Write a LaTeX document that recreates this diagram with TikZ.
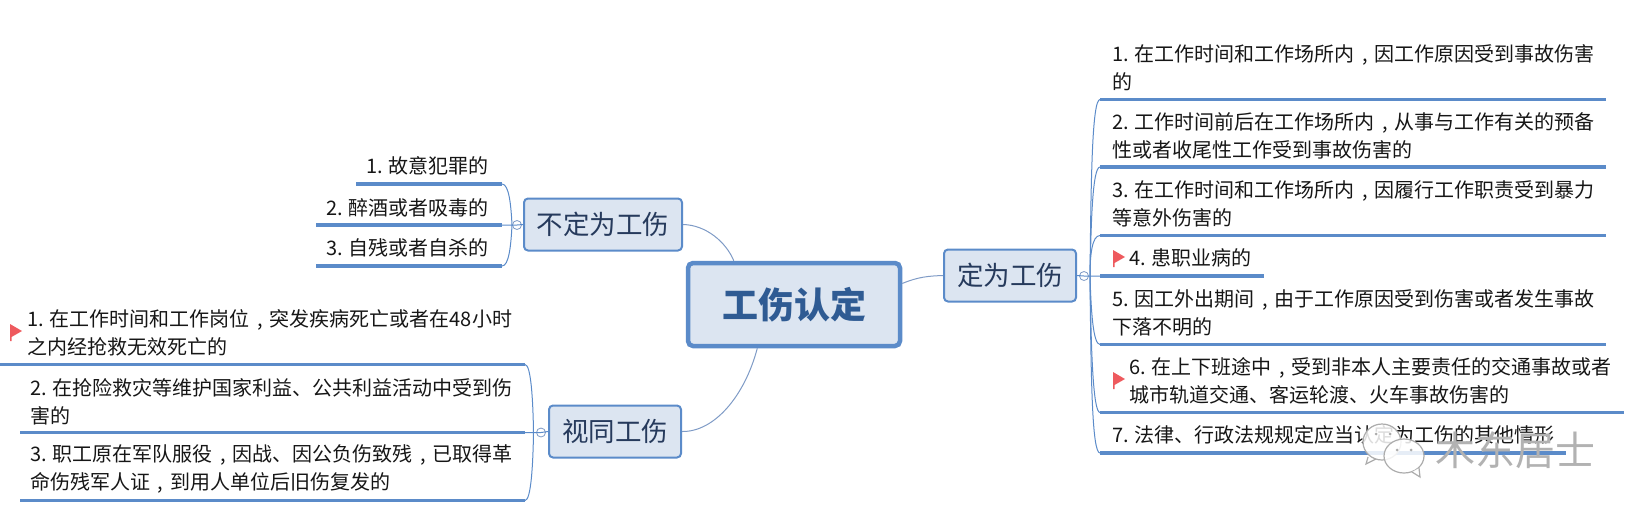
\documentclass[tikz,border=0pt]{standalone}
\usepackage{fontspec}
\setmainfont{Noto Sans CJK SC}
\usepackage{xcolor}
\usetikzlibrary{arrows.meta,positioning,calc}
\definecolor{mapblue}{HTML}{5B8BC9}
\definecolor{mapfill}{HTML}{DCE5F1}
\definecolor{mapink}{HTML}{2F5B93}
\definecolor{mapnavy}{HTML}{263A5C}
\definecolor{mapthin}{HTML}{7F9BC6}
\definecolor{mapflag}{HTML}{EE5A5E}
\definecolor{leafink}{HTML}{161616}
\newcommand{\zhc}{\makebox[20pt]{,}}
\begin{document}
\begin{tikzpicture}[x=1pt, y=-1pt,
  rootbox/.style={draw=mapblue, line width=4.5pt, rounded corners=5pt, fill=mapfill,
    font=\fontsize{36}{40}\selectfont\bfseries, text=mapink,
    minimum width=212pt, minimum height=83pt, inner sep=0pt},
  topic/.style={draw=mapblue, line width=2pt, rounded corners=4pt, fill=mapfill,
    font=\fontsize{26.5}{30}\selectfont, text=mapnavy, minimum height=52pt, inner sep=0pt},
  leaf/.style={font=\fontsize{20}{28}\selectfont, text=leafink, align=left, anchor=west, inner sep=0pt},
  leafr/.style={leaf, anchor=east, align=right},
  hub/.style={circle, draw=mapthin, fill=white, line width=0.8pt, minimum size=9pt, inner sep=0pt},
  rule/.style={draw=mapblue, line width=3.4pt},
  twig/.style={draw=mapblue, line width=1pt},
  limb/.style={draw=mapthin, line width=1pt},
  flagmark/.pic={
    \fill[mapflag] (0,0) -- (12,7) -- (1.5,13) -- (1.5,17) -- (0,17) -- cycle;
  },
  bubble/.style={draw=gray!65, line width=1.2pt, fill=white, fill opacity=0.85},
  eye/.style={fill=gray!65, circle, inner sep=0pt, minimum size=3pt}]
\useasboundingbox (0,0) rectangle (1651,523);
% centre and the three topics
\node[rootbox] (root) at (794,304.5) {工伤认定};
\node[topic, minimum width=132pt] (yes) at (1010,275.5) {定为工伤};
\node[topic, minimum width=158pt] (no) at (603,224.5) {不定为工伤};
\node[topic, minimum width=132pt] (same) at (615,431.5) {视同工伤};
\draw[limb] (root.11) .. controls (918,277) and (928,276) .. (yes.west);
\draw[limb] (no.east) .. controls (706,225) and (726,242) .. (root.144);
\draw[limb] (same.east) .. controls (715,432) and (745,395) .. (root.230);
% right side
\node[hub] (hubyes) at (1084,276) {};
\coordinate (trunkyes) at (1090,276);
\node[leaf] (y1) at (1112,68) {1. 在工作时间和工作场所内\zhc 因工作原因受到事故伤害\\的};
\node[leaf] (y2) at (1112,135.5) {2. 工作时间前后在工作场所内\zhc 从事与工作有关的预备\\性或者收尾性工作受到事故伤害的};
\node[leaf] (y3) at (1112,203.5) {3. 在工作时间和工作场所内\zhc 因履行工作职责受到暴力\\等意外伤害的};
\node[leaf] (y4) at (1129,258) {4. 患职业病的};
\node[leaf] (y5) at (1112,312.5) {5. 因工外出期间\zhc 由于工作原因受到伤害或者发生事故\\下落不明的};
\node[leaf] (y6) at (1129,381) {6. 在上下班途中\zhc 受到非本人主要责任的交通事故或者\\城市轨道交通、客运轮渡、火车事故伤害的};
\node[leaf] (y7) at (1112,435) {7. 法律、行政法规规定应当认定为工伤的其他情形};
\pic at (1113,250) {flagmark};
\pic at (1113,372) {flagmark};
\coordinate (y1a) at (1100,99.5);
\coordinate (y1b) at (1606,99.5);
\coordinate (y2a) at (1100,167);
\coordinate (y2b) at (1606,167);
\coordinate (y3a) at (1100,235.5);
\coordinate (y3b) at (1606,235.5);
\coordinate (y4a) at (1100,276);
\coordinate (y4b) at (1264,276);
\coordinate (y5a) at (1100,344.5);
\coordinate (y5b) at (1606,344.5);
\coordinate (y6a) at (1100,412.5);
\coordinate (y6b) at (1624,412.5);
\coordinate (y7a) at (1100,453);
\coordinate (y7b) at (1566,453);
\draw[twig] (yes.east) -- (hubyes.center) -- (y4a);
\draw[twig] (trunkyes) .. controls (1091,180) and (1092,99.5) .. (y1a);
\draw[twig] (trunkyes) .. controls (1091,230) and (1092,167) .. (y2a);
\draw[twig] (trunkyes) .. controls (1090,255) and (1092,235.5) .. (y3a);
\draw[twig] (trunkyes) .. controls (1091,310) and (1093,344.5) .. (y5a);
\draw[twig] (trunkyes) .. controls (1091,350) and (1093,412.5) .. (y6a);
\draw[twig] (trunkyes) .. controls (1091,380) and (1092,453) .. (y7a);
\draw[rule] (y1a) -- (y1b);
\draw[rule] (y2a) -- (y2b);
\draw[rule] (y3a) -- (y3b);
\draw[rule] (y4a) -- (y4b);
\draw[rule] (y5a) -- (y5b);
\draw[rule] (y6a) -- (y6b);
\draw[rule] (y7a) -- (y7b);
% upper left
\node[hub] (hubno) at (517,225) {};
\coordinate (trunkno) at (512,225);
\node[leafr] (n1) at (489,166) {1. 故意犯罪的};
\node[leafr] (n2) at (489,207.5) {2. 醉酒或者吸毒的};
\node[leafr] (n3) at (489,248) {3. 自残或者自杀的};
\coordinate (n1a) at (356,184);
\coordinate (n1b) at (502,184);
\coordinate (n2a) at (316,225);
\coordinate (n2b) at (502,225);
\coordinate (n3a) at (316,266);
\coordinate (n3b) at (502,266);
\draw[twig] (no.west) -- (hubno.center) -- (n2b);
\draw[twig] (trunkno) .. controls (511,205) and (509,184) .. (n1b);
\draw[twig] (trunkno) .. controls (511,245) and (509,266) .. (n3b);
\draw[rule] (n1a) -- (n1b);
\draw[rule] (n2a) -- (n2b);
\draw[rule] (n3a) -- (n3b);
% lower left
\node[hub] (hubsame) at (541,432.5) {};
\coordinate (trunksame) at (533.5,432.5);
\node[leaf] (s1) at (27,332.5) {1. 在工作时间和工作岗位\zhc 突发疾病死亡或者在48小时\\之内经抢救无效死亡的};
\node[leaf] (s2) at (30,401.5) {2. 在抢险救灾等维护国家利益、公共利益活动中受到伤\\害的};
\node[leaf] (s3) at (30,468.5) {3. 职工原在军队服役\zhc 因战、因公负伤致残\zhc 已取得革\\命伤残军人证\zhc 到用人单位后旧伤复发的};
\pic at (10,324) {flagmark};
\coordinate (s1a) at (0,364.5);
\coordinate (s1b) at (525,364.5);
\coordinate (s2a) at (20,432.5);
\coordinate (s2b) at (525,432.5);
\coordinate (s3a) at (20,500.5);
\coordinate (s3b) at (525,500.5);
\draw[twig] (same.west) -- (hubsame.center) -- (s2b);
\draw[twig] (trunksame) .. controls (533,400) and (531,364.5) .. (s1b);
\draw[twig] (trunksame) .. controls (533,465) and (531,500.5) .. (s3b);
\draw[rule] (s1a) -- (s1b);
\draw[rule] (s2a) -- (s2b);
\draw[rule] (s3a) -- (s3b);
% watermark
\draw[bubble] (1368,457) -- (1366,464) -- (1376,459) (1382,442) ellipse (19 and 18);
\draw[bubble] (1404,456) ellipse (20 and 17);
\draw[bubble] (1412,472) -- (1420,477) -- (1419,468);
\node[eye] (eye1) at (1376,434) {};
\node[eye] (eye2) at (1390,434) {};
\node[eye] (eye3) at (1397,450) {};
\node[eye] (eye4) at (1411,450) {};
\node[font=\fontsize{40}{44}\selectfont, text=gray!60, inner sep=0pt] (mark) at (1515,450) {木东居士};
\end{tikzpicture}
\end{document}
